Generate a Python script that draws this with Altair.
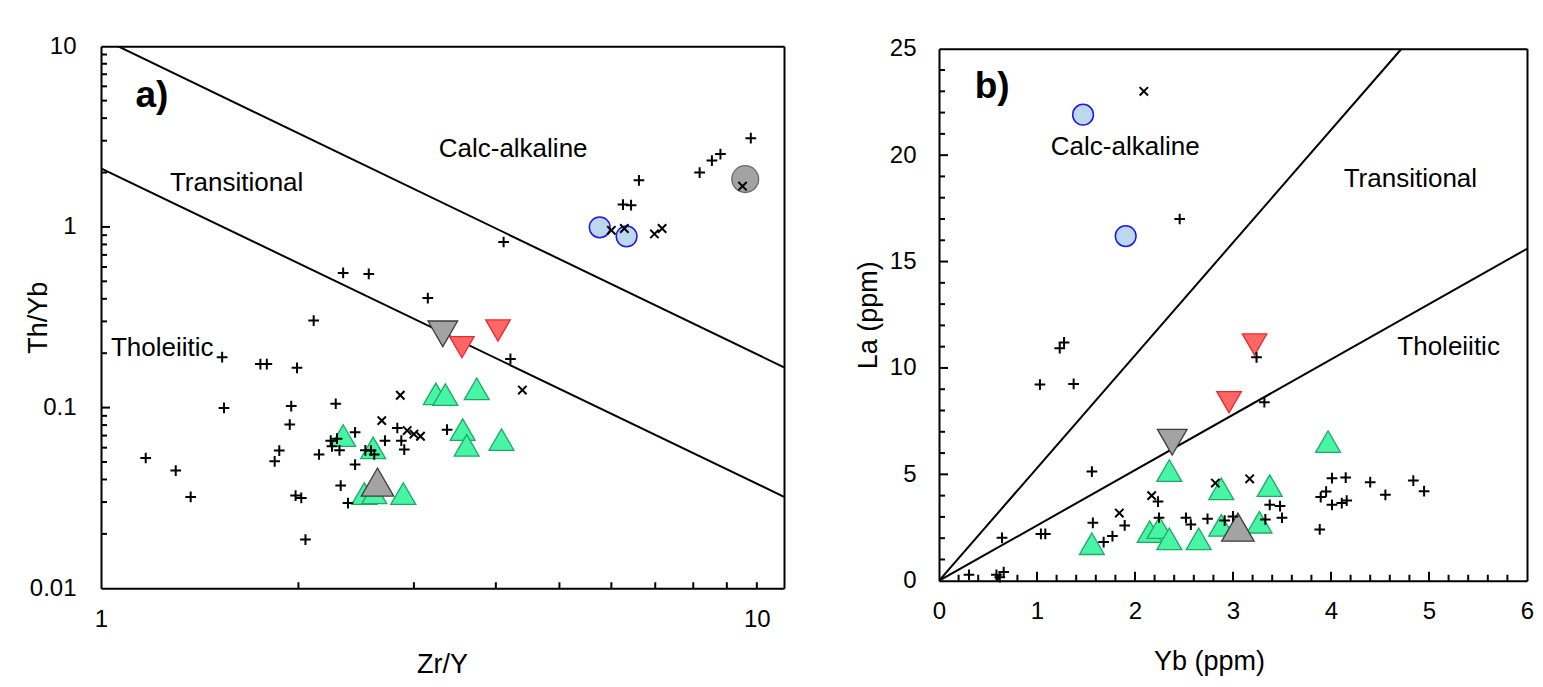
import altair as alt
import pandas as pd

FONT = "Liberation Sans"

# ---------------- Panel a : Th/Yb vs Zr/Y (log-log) ----------------
A_PLUS_X = [1.17, 1.30, 1.37, 1.53, 1.54, 1.75, 1.79, 1.84, 1.87, 1.94, 1.95, 1.98, 1.99, 2.02,
            2.05, 2.11, 2.15, 2.24, 2.25, 2.29, 2.31, 2.28, 2.32, 2.38, 2.34, 2.56, 2.44, 2.44,
            2.53, 2.58, 2.61, 2.71, 2.83, 2.87, 2.90, 3.15, 3.37, 4.21, 4.11, 6.25, 6.43, 6.61,
            8.18, 8.54, 8.80, 9.79]
A_PLUS_Y = [0.0526, 0.0448, 0.032, 0.190, 0.0995, 0.174, 0.174, 0.0504, 0.0578, 0.0805, 0.102,
            0.0326, 0.166, 0.0316, 0.0186, 0.303, 0.055, 0.0656, 0.061, 0.0673, 0.058, 0.105,
            0.037, 0.0296, 0.556, 0.549, 0.073, 0.0484, 0.058, 0.0578, 0.055, 0.0656, 0.0771,
            0.0656, 0.0586, 0.404, 0.0755, 0.186, 0.825, 1.33, 1.32, 1.81, 2.00, 2.33, 2.53, 3.10]
A_X_X = [2.86, 2.68, 2.93, 3.00, 3.07, 4.39, 6.00, 6.28, 6.98, 7.17, 9.51]
A_X_Y = [0.117, 0.0847, 0.0746, 0.0714, 0.0694, 0.125, 0.958, 0.98, 0.914, 0.98, 1.68]
A_GREEN_X = [2.34, 2.60, 3.24, 3.35, 3.74, 3.56, 3.61, 4.08, 2.52, 2.61, 2.89]
A_GREEN_Y = [0.070, 0.0598, 0.119, 0.118, 0.127, 0.0755, 0.0618, 0.0665, 0.0334, 0.0337, 0.0334]
A_GRAYUP_X, A_GRAYUP_Y = [2.64], [0.0387]
A_GRAYDN_X, A_GRAYDN_Y = [3.32], [0.256]
A_RED_X, A_RED_Y = [3.55, 4.03], [0.216, 0.267]
A_BLUE_X, A_BLUE_Y = [5.76, 6.33], [0.995, 0.887]
A_GRAYC_X, A_GRAYC_Y = [9.60], [1.84]
A_LINE_X1 = [1, 1]
A_LINE_Y1 = [11.1, 2.11]
A_LINE_X2 = [11, 11]
A_LINE_Y2 = [0.167, 0.0321]
A_TEXT = ["Calc-alkaline", "Transitional", "Tholeiitic"]
A_TEXT_X = [4.25, 1.61, 1.24]
A_TEXT_Y = [2.69, 1.74, 0.213]
A_TAG = ["a)"]
A_TAG_X, A_TAG_Y = [1.196], [5.28]
A_XLAB = [1, 10]
A_XMINOR = [2, 3, 4, 5, 6, 7, 8, 9, 10]
A_XMAJOR = []
A_YLAB = [0.01, 0.1, 1, 10]
A_YMINOR = [0.02, 0.03, 0.04, 0.05, 0.06, 0.07, 0.08, 0.09,
            0.2, 0.3, 0.4, 0.5, 0.6, 0.7, 0.8, 0.9,
            2, 3, 4, 5, 6, 7, 8, 9]
A_YMAJOR = [0.1, 1]

# ---------------- Panel b : La vs Yb (linear) ----------------
B_PLUS_X = [0.306, 0.586, 0.62, 0.66, 0.643, 1.04, 1.085, 1.03, 1.374, 1.232, 1.276, 1.56, 2.456,
            1.57, 1.68, 1.77, 1.895, 2.235, 2.245, 2.52, 2.57, 2.74, 2.915, 3.0, 3.24, 3.32,
            3.375, 3.48, 3.33, 3.5, 3.885, 3.895, 3.95, 4.01, 4.15, 4.01, 4.11, 4.16, 4.40,
            4.555, 4.84, 4.95]
B_PLUS_Y = [0.28, 0.28, 0.17, 0.41, 2.02, 2.2, 2.2, 9.22, 9.25, 10.93, 11.2, 5.13, 17.0,
            2.72, 1.82, 2.10, 2.6, 3.72, 2.96, 2.96, 2.64, 2.91, 2.83, 3.02, 10.5, 8.39,
            3.57, 3.51, 2.88, 2.96, 2.41, 3.93, 4.19, 4.82, 4.85, 3.57, 3.65, 3.77, 4.63,
            4.04, 4.71, 4.21]
B_X_X = [2.09, 1.84, 2.17, 2.82, 3.17]
B_X_Y = [23.0, 3.18, 4.0, 4.59, 4.79]
B_GREEN_X = [1.56, 2.15, 2.25, 2.35, 2.65, 2.88, 3.27, 2.35, 2.88, 3.375, 3.97]
B_GREEN_Y = [1.74, 2.31, 2.5, 1.97, 1.97, 2.6, 2.75, 5.18, 4.32, 4.47, 6.54]
B_GRAYUP_X, B_GRAYUP_Y = [3.05], [2.52]
B_GRAYDN_X, B_GRAYDN_Y = [2.38], [6.51]
B_RED_X, B_RED_Y = [3.22, 2.96], [11.1, 8.39]
B_BLUE_X, B_BLUE_Y = [1.47, 1.905], [21.9, 16.2]
B_LINE_X1 = [0, 0]
B_LINE_Y1 = [0, 0]
B_LINE_X2 = [4.72, 6]
B_LINE_Y2 = [25, 15.6]
B_TEXT = ["Calc-alkaline", "Transitional", "Tholeiitic"]
B_TEXT_X = [1.90, 4.81, 5.20]
B_TEXT_Y = [20.36, 18.87, 10.99]
B_TAG = ["b)"]
B_TAG_X, B_TAG_Y = [0.543], [23.2]
B_XLAB = [0, 1, 2, 3, 4, 5, 6]
B_XMINOR = [round(0.2 * i, 1) for i in range(1, 30) if i % 5 != 0]
B_XMAJOR = [1, 2, 3, 4, 5]
B_YLAB = [0, 5, 10, 15, 20, 25]
B_YMINOR = [i for i in range(1, 25) if i % 5 != 0]
B_YMAJOR = [5, 10, 15, 20]

PLUS = "M-1,0L1,0M0,-1L0,1"
CROSS = "M-1,-1L1,1M-1,1L1,-1"

GREEN_FILL, GREEN_STROKE = "#48F5A7", "#1DAA62"
RED_FILL, RED_STROKE = "#FF6666", "#E52B2B"
GRAY_FILL, GRAY_STROKE = "#A3A3A3", "#3C3C3C"
BLUE_FILL, BLUE_STROKE = "#BDD7EE", "#1A1AE6"

TICK_FS = 24
TITLE_FS = 27
REGION_FS = 26
TAG_FS = 37
MINOR_LEN, MAJOR_LEN = 6, 9


def pts(xs, ys):
    return pd.DataFrame({"x": xs, "y": ys})


def label_axis(values, title, pad, tx, ty, angle, orient):
    return alt.Axis(values=values, format="~g", ticks=False, tickSize=0, domain=True,
                    domainColor="black", domainWidth=2, grid=False, orient=orient,
                    labelFontSize=TICK_FS, labelFont=FONT, labelColor="black", labelPadding=pad,
                    labelFlush=False, labelOverlap=False,
                    title=title, titleFontSize=TITLE_FS, titleFont=FONT, titleFontWeight="normal",
                    titleColor="black", titleX=tx, titleY=ty, titleAngle=angle,
                    titleAlign="center", titleBaseline="middle")


def frame_axis(orient):
    return alt.Axis(values=[], labels=False, ticks=False, grid=False, domain=True,
                    domainColor="black", domainWidth=2, title=None, orient=orient)


def panel(sx, sy, d, xlab, ylab, xtitle, ytitle, xminor, xmajor, yminor, ymajor,
          xlpad, ylpad, xt, yt, w, h):
    def XY(xaxis=None, yaxis=None):
        return dict(x=alt.X("x:Q", scale=sx, axis=xaxis), y=alt.Y("y:Q", scale=sy, axis=yaxis))

    lines = alt.Chart(pd.DataFrame({"x": d["lx1"], "y": d["ly1"], "x2": d["lx2"], "y2": d["ly2"]})).mark_rule(
        color="black", strokeWidth=2, clip=True).encode(
        **XY(label_axis(xlab, xtitle, xlpad, xt[0], xt[1], 0, "bottom"),
             label_axis(ylab, ytitle, ylpad, yt[0], yt[1], -90, "left")),
        x2="x2:Q", y2="y2:Q")

    dummy = pts(d["lx1"][:1], d["ly1"][:1])
    layers = [lines]
    layers.append(alt.Chart(dummy).mark_point(opacity=0).encode(
        **XY(frame_axis("top"), frame_axis("right"))))

    # inward tick marks, placed through the scales
    def xticks(vals, ln):
        return alt.Chart(pd.DataFrame({"v": vals})).mark_rule(color="black", strokeWidth=2).encode(
            x=alt.X("v:Q", scale=sx, axis=None), y=alt.value(h), y2=alt.value(h - ln))

    def yticks(vals, ln):
        return alt.Chart(pd.DataFrame({"v": vals})).mark_rule(color="black", strokeWidth=2).encode(
            y=alt.Y("v:Q", scale=sy, axis=None), x=alt.value(0), x2=alt.value(ln))

    layers += [xticks(xminor, MINOR_LEN), yticks(yminor, MINOR_LEN), yticks(ymajor, MAJOR_LEN)]
    if xmajor:
        layers.append(xticks(xmajor, MAJOR_LEN))

    def sym(xs, ys, shape, size, fill, stroke, sw=1.3):
        return alt.Chart(pts(xs, ys)).mark_point(shape=shape, size=size, filled=True, fill=fill,
                                                   stroke=stroke, strokeWidth=sw, opacity=1).encode(**XY())

    def line_sym(xs, ys, shape, size):
        return alt.Chart(pts(xs, ys)).mark_point(shape=shape, size=size, filled=False,
                                                   stroke="black", strokeWidth=2, opacity=1).encode(**XY())

    layers += [
        sym(d["gx"], d["gy"], "triangle-up", 620, GREEN_FILL, GREEN_STROKE),
        sym(d["gux"], d["guy"], "triangle-up", 1050, GRAY_FILL, GRAY_STROKE),
        sym(d["gdx"], d["gdy"], "triangle-down", 880, GRAY_FILL, GRAY_STROKE),
        sym(d["rx"], d["ry"], "triangle-down", 600, RED_FILL, RED_STROKE),
        sym(d["bx"], d["by"], "circle", 430, BLUE_FILL, BLUE_STROKE, 1.5),
    ]
    if d.get("cx"):
        layers.append(sym(d["cx"], d["cy"], "circle", 720, GRAY_FILL, "#6A6A6A"))
    layers += [
        line_sym(d["px"], d["py"], PLUS, 115),
        line_sym(d["xx"], d["xy"], CROSS, 70),
    ]
    txt = pd.DataFrame({"x": d["tx"], "y": d["ty"], "t": d["t"]})
    layers.append(alt.Chart(txt).mark_text(font=FONT, fontSize=REGION_FS, color="black",
                                           align="center", baseline="middle").encode(**XY(), text="t:N"))
    tag = pd.DataFrame({"x": d["tagx"], "y": d["tagy"], "t": d["tag"]})
    layers.append(alt.Chart(tag).mark_text(font=FONT, fontSize=TAG_FS, fontWeight="bold", color="black",
                                           align="center", baseline="middle").encode(**XY(), text="t:N"))
    return alt.layer(*layers).resolve_axis(x="independent", y="independent").properties(width=w, height=h)


da = dict(lx1=A_LINE_X1, ly1=A_LINE_Y1, lx2=A_LINE_X2, ly2=A_LINE_Y2,
          gx=A_GREEN_X, gy=A_GREEN_Y, gux=A_GRAYUP_X, guy=A_GRAYUP_Y, gdx=A_GRAYDN_X, gdy=A_GRAYDN_Y,
          rx=A_RED_X, ry=A_RED_Y, bx=A_BLUE_X, by=A_BLUE_Y, cx=A_GRAYC_X, cy=A_GRAYC_Y,
          px=A_PLUS_X, py=A_PLUS_Y, xx=A_X_X, xy=A_X_Y,
          tx=A_TEXT_X, ty=A_TEXT_Y, t=A_TEXT, tagx=A_TAG_X, tagy=A_TAG_Y, tag=A_TAG)
db = dict(lx1=B_LINE_X1, ly1=B_LINE_Y1, lx2=B_LINE_X2, ly2=B_LINE_Y2,
          gx=B_GREEN_X, gy=B_GREEN_Y, gux=B_GRAYUP_X, guy=B_GRAYUP_Y, gdx=B_GRAYDN_X, gdy=B_GRAYDN_Y,
          rx=B_RED_X, ry=B_RED_Y, bx=B_BLUE_X, by=B_BLUE_Y,
          px=B_PLUS_X, py=B_PLUS_Y, xx=B_X_X, xy=B_X_Y,
          tx=B_TEXT_X, ty=B_TEXT_Y, t=B_TEXT, tagx=B_TAG_X, tagy=B_TAG_Y, tag=B_TAG)

chart_a = panel(alt.Scale(type="log", domain=[1, 11], nice=False),
                alt.Scale(type="log", domain=[0.01, 10], nice=False),
                da, A_XLAB, A_YLAB, "Zr/Y", "Th/Yb", A_XMINOR, A_XMAJOR, A_YMINOR, A_YMAJOR,
                19, 25, (341, 76), (-63, 271), 683, 542)
chart_b = panel(alt.Scale(domain=[0, 6], nice=False, zero=False),
                alt.Scale(domain=[0, 25], nice=False, zero=False),
                db, B_XLAB, B_YLAB, "Yb (ppm)", "La (ppm)", B_XMINOR, B_XMAJOR, B_YMINOR, B_YMAJOR,
                19, 23, (270, 81), (-71, 266), 588, 532)

chart = alt.hconcat(chart_a, chart_b, spacing=68, center=True).properties(
    padding={"left": 23, "top": 33, "right": 5, "bottom": 5}
).configure_view(stroke=None).configure(background="white")

chart.save("out.html", embed_options={"renderer": "svg", "actions": False})
